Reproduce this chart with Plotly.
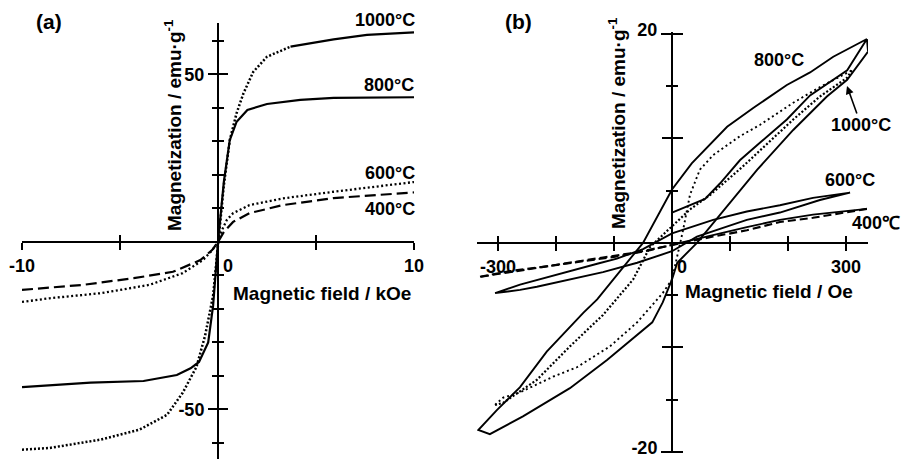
import numpy as np
import plotly.graph_objects as go

# ---------------- data: panel (a)  (field in kOe, magnetization in emu/g)
H_a_1000 = [-10, -8.6, -6.0, -4.0, -2.6, -1.8, -1.1, -0.66, -0.25, 0, 0.3, 0.6, 0.95, 1.3, 1.8, 2.5, 3.7, 5.9, 7.6, 10]
M_a_1000 = [-62, -61.5, -59, -56, -51.6, -45, -37.3, -28, -16, 0, 17, 30.4, 38.5, 44.4, 50.8, 55.3, 58.3, 60.5, 61.8, 62.6]
H_a_800 = [-10, -6.5, -3.8, -2.1, -1.4, -0.97, -0.5, -0.25, 0, 0.3, 0.6, 0.95, 1.5, 2.5, 4.2, 5.9, 10]
M_a_800 = [-43.3, -42, -41.5, -39.7, -37.7, -35.8, -30, -19, 0, 18, 30.4, 35.9, 39.4, 41.2, 42.4, 43, 43.2]
H_a_600 = [-10, -8.6, -6, -3.5, -1.8, -0.77, -0.3, 0, 0.2, 0.45, 0.77, 1.6, 3.3, 5.9, 10]
M_a_600 = [-17.9, -16.8, -15.3, -12.8, -9.3, -5.4, -2.5, 0, 3.5, 6.6, 8.6, 11, 13, 15, 17.9]
H_a_400 = [-10, -6.9, -4.3, -2.3, -0.9, -0.3, 0, 0.3, 0.77, 1.6, 3.3, 5.9, 10]
M_a_400 = [-14.3, -12.8, -10.8, -8.9, -5.4, -2.4, 0, 3, 6, 8.6, 11, 13.1, 14.8]

# ---------------- data: panel (b)  (field in Oe, magnetization in emu/g)
H_b_800 = [0, 57, 83, 117, 152, 198, 238, 302, 336, 278, 238, 198, 140, 95, 34, 0, -50, -129, -153, -216,
           -262, -302, -334, -314, -257, -176, -112, -34, -16, 0, 9, 43, 147, 209, 267, 302, 338, 336]
M_b_800 = [2.9, 4.2, 5.7, 7.9, 9.6, 11.8, 14.1, 16.5, 19.5, 17.8, 16.3, 15.1, 12.9, 11.1, 7.6, 5.1, 0, -5.4, -6.7, -10.4,
           -13.8, -16.0, -17.9, -18.3, -16.6, -13.9, -11.2, -7.6, -5.7, -3.5, -1.9, 0, 7.0, 10.8, 14.0, 15.6, 18.3, 19.5]
H_b_1000_down = [310, 302, 255, 209, 122, 66, 31, 2, -38, -67, -119, -176, -233, -291, -305]
M_b_1000_down = [16.5, 15.8, 14.0, 11.8, 7.3, 4.6, 3.2, 1.7, -0.4, -3.5, -6.9, -9.9, -13.1, -15.3, -15.5]
H_b_1000_up = [-305, -291, -262, -205, -164, -107, -60, -16, 0, 9, 19, 31, 48, 71, 117, 152, 209, 255, 310]
M_b_1000_up = [-15.5, -14.8, -14.3, -12.8, -11.9, -9.9, -7.6, -4.8, -3.5, -1.4, 1.2, 4.6, 7.0, 8.4, 10.2, 11.3, 13.4, 14.9, 16.5]
H_b_600 = [307, 243, 186, 129, 71, 14, 0, -50, -95, -129, -176, -233, -262, -305,
           -262, -233, -176, -119, -60, 0, 43, 88, 129, 186, 255, 307]
M_b_600 = [4.8, 4.3, 3.6, 3.0, 2.2, 1.2, 0.9, -0.6, -1.5, -2.0, -2.7, -3.6, -4.0, -4.8,
           -4.5, -4.2, -3.5, -2.8, -1.9, -0.8, 0.6, 1.4, 2.2, 2.9, 4.1, 4.8]
H_b_400_down = [336, 243, 186, 129, 71, 0, -60, -119, -176, -233, -291, -331]
M_b_400_down = [3.25, 2.4, 2.0, 1.2, 0.6, -0.2, -0.9, -1.4, -1.9, -2.4, -2.9, -3.25]
H_b_400_up = [-331, -279, -210, -141, -95, -38, 14, 71, 129, 186, 243, 336]
M_b_400_up = [-3.25, -2.7, -2.2, -1.7, -1.3, -0.7, 0, 0.76, 1.5, 2.2, 2.7, 3.25]

# tick values / labels
xa_major = [-10, 0, 10]
xa_text = ["-10", "\u2007\u20070", "10"]
xa_minor = [-5, 5]
ya_major = [-50, 50]
ya_text = ["-50", "50"]
ya_minor = [-60, -40, -30, -20, -10, 10, 20, 30, 40, 60]
xb_major = [-300, 0, 300]
xb_text = ["-300", "\u2007\u20070", "300"]
xb_minor = [-200, -100, 100, 200]
yb_major = [-20, 20]
yb_text = ["-20", "20"]
yb_long = [-20, -10, 0, 10, 20]
yb_short = [-15, -5, 5, 15]

W, Hh = 921, 459
FAM = "Liberation Sans, Arial, Helvetica, sans-serif"


def px(x):
    return x / W


def py(y):
    return 1 - y / Hh


fig = go.Figure()
BLK = "black"

# ---- panel (a) traces
h1000 = np.array(H_a_1000)
m1000 = np.array(M_a_1000)
lo = h1000 <= 3.7
hi = h1000 >= 3.7
fig.add_trace(go.Scatter(x=h1000[lo], y=m1000[lo], mode="lines", line=dict(color=BLK, width=2.5, dash="2px,2px"),
                         xaxis="x", yaxis="y", showlegend=False))
fig.add_trace(go.Scatter(x=h1000[hi], y=m1000[hi], mode="lines", line=dict(color=BLK, width=2.2),
                         xaxis="x", yaxis="y", showlegend=False))
fig.add_trace(go.Scatter(x=H_a_800, y=M_a_800, mode="lines", line=dict(color=BLK, width=2.2),
                         xaxis="x", yaxis="y", showlegend=False))
fig.add_trace(go.Scatter(x=H_a_600, y=M_a_600, mode="lines", line=dict(color=BLK, width=2.3, dash="2px,2.5px"),
                         xaxis="x", yaxis="y", showlegend=False))
fig.add_trace(go.Scatter(x=H_a_400, y=M_a_400, mode="lines", line=dict(color=BLK, width=2.2, dash="11px,5px"),
                         xaxis="x", yaxis="y", showlegend=False))

# ---- panel (b) traces
fig.add_trace(go.Scatter(x=H_b_800, y=M_b_800, mode="lines", line=dict(color=BLK, width=1.9),
                         xaxis="x2", yaxis="y2", showlegend=False))
fig.add_trace(go.Scatter(x=H_b_1000_down, y=M_b_1000_down, mode="lines",
                         line=dict(color=BLK, width=2.2, dash="2px,2px"),
                         xaxis="x2", yaxis="y2", showlegend=False))
fig.add_trace(go.Scatter(x=H_b_1000_up, y=M_b_1000_up, mode="lines",
                         line=dict(color=BLK, width=1.9, dash="2px,3px"),
                         xaxis="x2", yaxis="y2", showlegend=False))
fig.add_trace(go.Scatter(x=H_b_600, y=M_b_600, mode="lines", line=dict(color=BLK, width=1.9),
                         xaxis="x2", yaxis="y2", showlegend=False))
fig.add_trace(go.Scatter(x=H_b_400_down, y=M_b_400_down, mode="lines",
                         line=dict(color=BLK, width=2.1, dash="8px,4px"),
                         xaxis="x2", yaxis="y2", showlegend=False))
h4 = np.array(H_b_400_up)
m4 = np.array(M_b_400_up)
fig.add_trace(go.Scatter(x=h4[h4 <= 14], y=m4[h4 <= 14], mode="lines",
                         line=dict(color=BLK, width=2.1, dash="8px,4px"),
                         xaxis="x2", yaxis="y2", showlegend=False))
fig.add_trace(go.Scatter(x=h4[h4 >= 14], y=m4[h4 >= 14], mode="lines", line=dict(color=BLK, width=1.9),
                         xaxis="x2", yaxis="y2", showlegend=False))

# invisible companions so the overlay (tick-only) axes are drawn
for xa, ya, hx, my in [("x3", "y", H_a_800, M_a_800), ("x", "y3", H_a_800, M_a_800),
                       ("x4", "y2", H_b_800, M_b_800), ("x2", "y4", H_b_800, M_b_800),
                       ("x2", "y5", H_b_800, M_b_800)]:
    fig.add_trace(go.Scatter(x=hx, y=my, mode="lines", opacity=0, line=dict(width=0.1),
                             xaxis=xa, yaxis=ya, showlegend=False, hoverinfo="skip"))

# ---- axes geometry (pixel positions converted to paper fractions)
xa_rng = [-10, 10]
ya_rng = [-64.78, 65.37]
xb_rng = [-336.2, 337.9]
yb_rng = [-20.1, 20.17]
xa_dom = [px(22), px(414)]
ya_dom = [0, py(23)]
xb_dom = [px(477), px(868)]
yb_dom = [py(453), py(32)]
xa_pos = py(242)
ya_pos = px(218)
xb_pos = py(243)
yb_pos = px(672)

tickfont = dict(family=FAM, size=18, color=BLK, weight="bold")
common = dict(showgrid=False, zeroline=False, tickcolor=BLK, tickwidth=2, fixedrange=True, automargin=False,
              ticklabeloverflow="allow")


def minor(vals, side, ln):
    return dict(tickmode="array", tickvals=vals, ticks=side, ticklen=ln, tickwidth=2,
                tickcolor=BLK, showgrid=False)


fig.update_layout(
    template="none",
    xaxis=dict(domain=xa_dom, range=xa_rng, anchor="free", position=xa_pos, showline=True, linewidth=2,
               linecolor=BLK, ticks="outside", ticklen=7, tickmode="array", tickvals=xa_major,
               ticktext=xa_text, tickfont=tickfont, minor=minor(xa_minor, "outside", 7), **common),
    xaxis3=dict(overlaying="x", range=xa_rng, anchor="free", position=xa_pos, showline=False,
                ticks="inside", ticklen=7, tickmode="array", tickvals=xa_major, showticklabels=False,
                minor=minor(xa_minor, "inside", 7), **common),
    yaxis=dict(domain=ya_dom, range=ya_rng, anchor="free", position=ya_pos, showline=True, linewidth=2,
               linecolor=BLK, ticks="outside", ticklen=9, tickmode="array", tickvals=ya_major,
               ticktext=ya_text, tickfont=tickfont, minor=minor(ya_minor, "outside", 5), **common),
    yaxis3=dict(overlaying="y", range=ya_rng, anchor="free", position=ya_pos, showline=False,
                ticks="inside", ticklen=9, tickmode="array", tickvals=ya_major, showticklabels=False,
                minor=minor(ya_minor, "inside", 5), **common),
    xaxis2=dict(domain=xb_dom, range=xb_rng, anchor="free", position=xb_pos, showline=True, linewidth=2,
                linecolor=BLK, ticks="outside", ticklen=7, tickmode="array", tickvals=xb_major,
                ticktext=xb_text, tickfont=tickfont, minor=minor(xb_minor, "outside", 7), **common),
    xaxis4=dict(overlaying="x2", range=xb_rng, anchor="free", position=xb_pos, showline=False,
                ticks="inside", ticklen=7, tickmode="array", tickvals=xb_major, showticklabels=False,
                minor=minor(xb_minor, "inside", 7), **common),
    yaxis2=dict(domain=yb_dom, range=yb_rng, anchor="free", position=yb_pos, showline=True, linewidth=2,
                linecolor=BLK, ticks="outside", ticklen=10, tickmode="array", tickvals=yb_major,
                ticktext=yb_text, tickfont=tickfont, ticklabelshift=-4,
                minor=minor(yb_short, "outside", 5), **common),
    yaxis4=dict(overlaying="y2", range=yb_rng, anchor="free", position=yb_pos, showline=False,
                ticks="inside", ticklen=10, tickmode="array", tickvals=yb_long, showticklabels=False,
                minor=minor(yb_short, "inside", 5), **common),
    yaxis5=dict(overlaying="y2", range=yb_rng, anchor="free", position=yb_pos, showline=False,
                ticks="outside", ticklen=10, tickmode="array", tickvals=yb_long, showticklabels=False,
                **common),
    width=W, height=Hh, margin=dict(l=0, r=0, t=0, b=0, pad=0),
    paper_bgcolor="white", plot_bgcolor="rgba(0,0,0,0)", showlegend=False,
    font=dict(family=FAM, color=BLK),
)


def label(text, x, y, size=18, xanchor="center", angle=0, **kw):
    fig.add_annotation(text=text, x=px(x), y=py(y), xref="paper", yref="paper",
                       xanchor=xanchor, yanchor="middle", textangle=angle,
                       font=dict(family=FAM, size=size, color=BLK, weight="bold"), **kw)


# panel (a) texts
label("(a)", 49, 22, size=21, showarrow=False)
label("1000°C", 417, 20, xanchor="right", showarrow=False)
label("800°C", 416, 85, xanchor="right", showarrow=False)
label("600°C", 417, 173, xanchor="right", showarrow=False)
label("400°C", 417, 209, xanchor="right", showarrow=False)
label("Magnetization / emu·g<sup>-1</sup>", 173, 125, size=19, angle=-90, showarrow=False)
label("Magnetic field / kOe", 322, 293, size=19, showarrow=False)

# panel (b) texts
label("(b)", 518, 22, size=21, showarrow=False)
label("800°C", 779, 60, showarrow=False)
label("600°C", 850, 180, showarrow=False)
label("400℃", 850, 223, xanchor="left", showarrow=False)
label("Magnetization / emu·g<sup>-1</sup>", 617, 123, size=19, angle=-90, showarrow=False)
label("Magnetic field / Oe", 769, 291, size=19, showarrow=False)
# 1000°C label with its arrow pointing at the loop tip
fig.add_annotation(text="1000°C", x=px(847), y=py(86), xref="paper", yref="paper", showarrow=True,
                   ax=14, ay=39, arrowhead=2, arrowsize=1, arrowwidth=1.6, arrowcolor=BLK,
                   font=dict(family=FAM, size=18, color=BLK, weight="bold"))

fig.write_html("out.html", config={"displayModeBar": False, "staticPlot": True},
               post_script="document.body.style.margin='0px';document.body.style.overflow='hidden';")
